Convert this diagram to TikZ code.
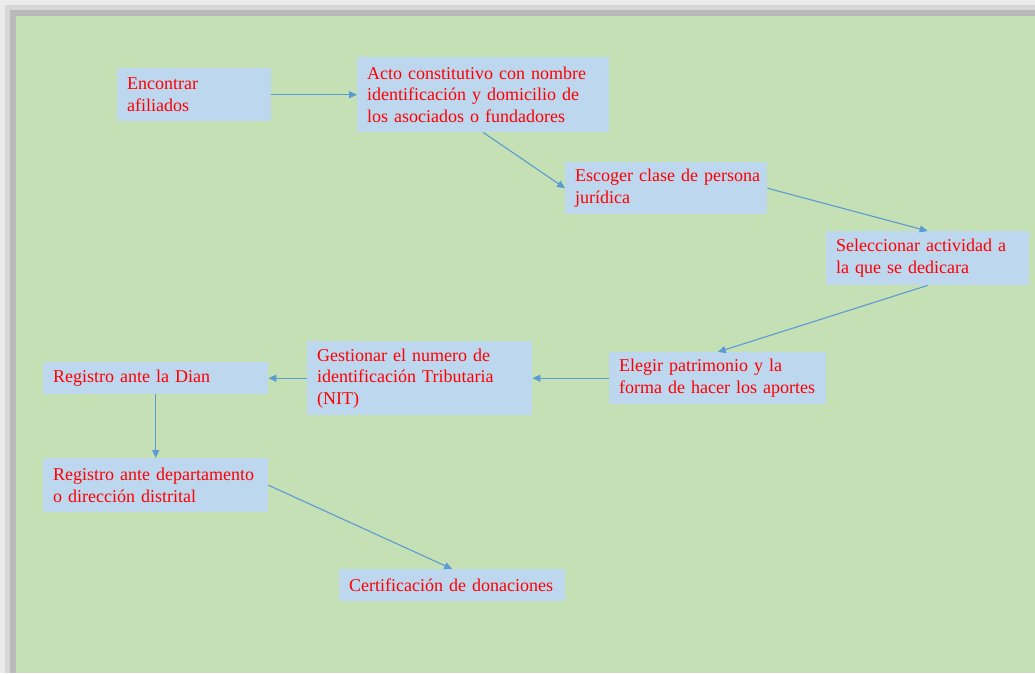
\documentclass[tikz,border=0pt]{standalone}
\usepackage{fontspec}
\setmainfont{Liberation Serif}
\usetikzlibrary{arrows.meta}
\definecolor{bggreen}{HTML}{C5E0B4}
\definecolor{boxblue}{HTML}{BDD7EE}
\definecolor{arrowblue}{HTML}{5B9BD5}
\definecolor{shA}{HTML}{EBEBEB}
\definecolor{shB}{HTML}{D7D7D7}
\definecolor{shC}{HTML}{BABABA}
\tikzset{
  stepbox/.style n args={2}{draw=none, fill=boxblue, rectangle, anchor=north west,
    inner xsep=10pt, inner ysep=0pt, text width=#1pt-20pt, minimum height=#2pt,
    align=left, text=red, font=\fontsize{18}{21.5}\selectfont,
    execute at begin node={\hyphenpenalty=10000\exhyphenpenalty=10000}},
  flow/.style={draw=arrowblue, line width=1.1pt, -{Triangle[length=8pt,width=7pt]}}
}
\begin{document}
\begin{tikzpicture}[x=1pt,y=-1pt]
\useasboundingbox (0,0) rectangle (1035,673);
\fill[shA] (0,0) rectangle (1035,673);
\fill[shB] (5,5) rectangle (1035,673);
\fill[shC] (10,10) rectangle (1035,673);
\fill[bggreen] (16,16) rectangle (1035,673);

\node[stepbox={154}{53}] (n1) at (117,68) {Encontrar\\afiliados};
\node[stepbox={252}{75}] (n2) at (357,57) {\mbox{Acto constitutivo con nombre}\\\mbox{identificación y domicilio de}\\\mbox{los asociados o fundadores}};
\node[stepbox={202}{52}] (n3) at (565,162) {\mbox{Escoger clase de persona}\\jurídica};
\node[stepbox={203}{54}] (n4) at (826,231) {\mbox{Seleccionar actividad a}\\\mbox{la que se dedicara}};
\node[stepbox={217}{52}] (n5) at (609,352) {\mbox{Elegir patrimonio y la}\\\mbox{forma de hacer los aportes}};
\node[stepbox={225}{74}] (n6) at (307,341) {\mbox{Gestionar el numero de}\\\mbox{identificación Tributaria}\\(NIT)};
\node[stepbox={225}{32}] (n7) at (43,362) {\mbox{Registro ante la Dian}};
\node[stepbox={225}{54}] (n8) at (43,458) {\mbox{Registro ante departamento}\\\mbox{o dirección distrital}};
\node[stepbox={226}{32}] (n9) at (339,569) {\mbox{Certificación de donaciones}};

\draw[flow] (n1.east) -- (n2.west);
\draw[flow] (n2.south) -- (n3.west);
\draw[flow] (n3.east) -- (n4.north);
\draw[flow] (n4.south) -- (n5.north);
\draw[flow] (n5.west) -- (n6.east);
\draw[flow] (n6.west) -- (n7.east);
\draw[flow] (n7.south) -- (n8.north);
\draw[flow] (n8.east) -- (n9.north);
\end{tikzpicture}
\end{document}
